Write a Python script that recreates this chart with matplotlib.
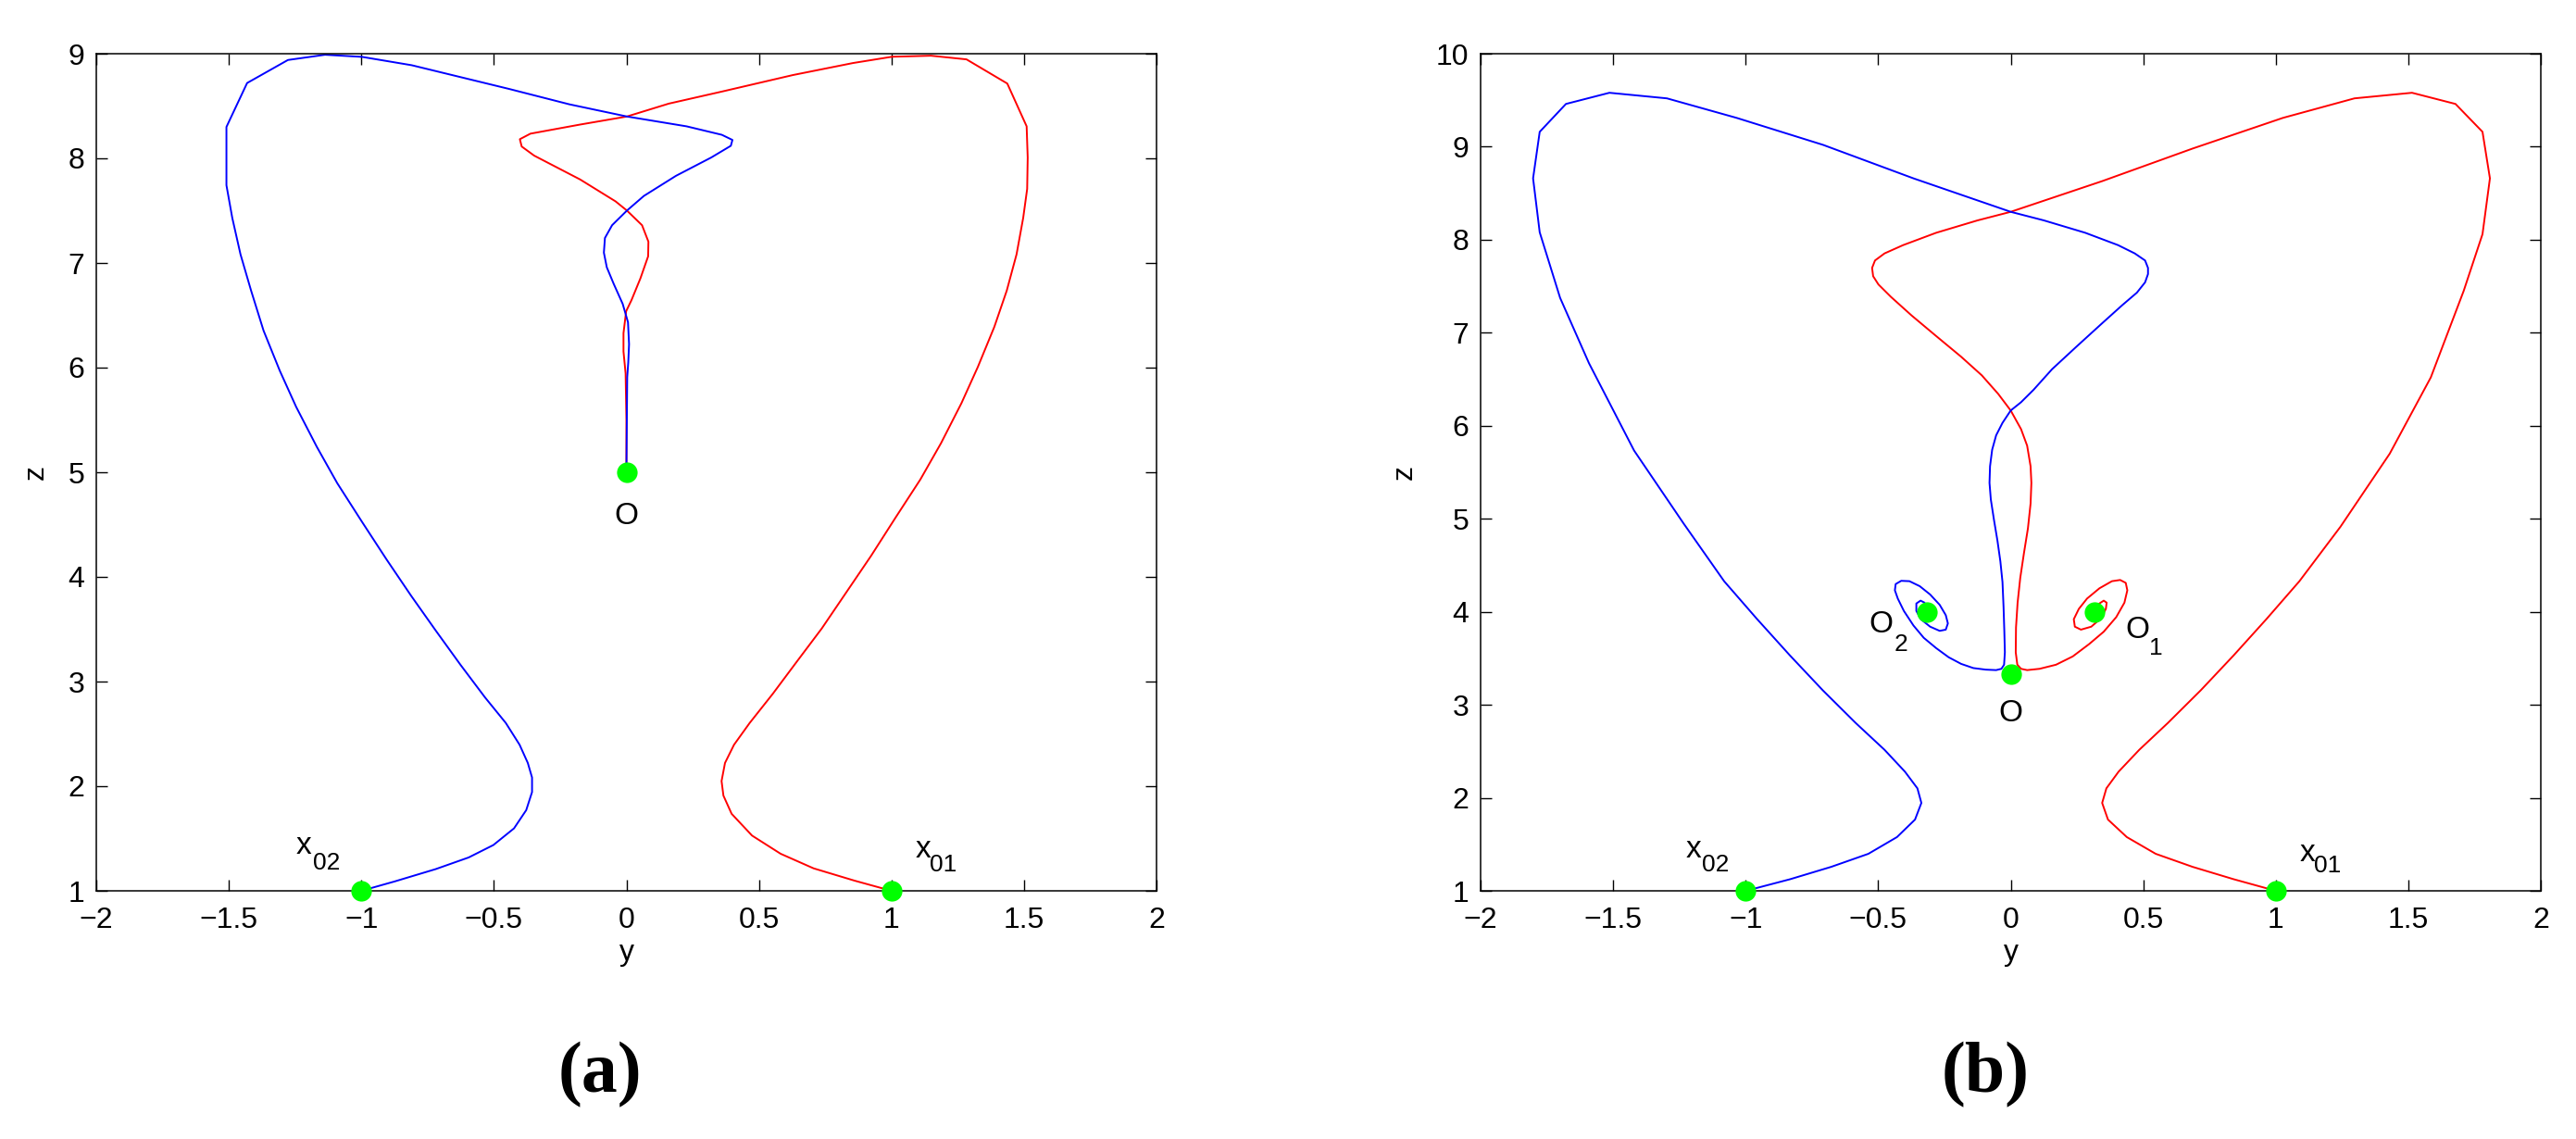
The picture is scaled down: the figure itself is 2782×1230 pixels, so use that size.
import matplotlib
matplotlib.use("Agg")
import matplotlib.pyplot as plt
from matplotlib.transforms import offset_copy

plt.rcParams['font.family'] = ['Liberation Sans', 'DejaVu Sans']

# ---------------- data: panel (a) ----------------
blue_a_y = [-1.0, -0.874, -0.719, -0.595, -0.502, -0.424, -0.378, -0.356, -0.356, -0.372, -0.403,
            -0.455, -0.533, -0.626, -0.719, -0.812, -0.905, -0.998, -1.091, -1.168, -1.246, -1.308,
            -1.369, -1.416, -1.456, -1.487, -1.509, -1.509, -1.431, -1.277, -1.137, -0.998, -0.81,
            -0.442, -0.2146, 0.002, 0.227, 0.360, 0.400, 0.394, 0.320, 0.187, 0.066, 0.002, -0.054,
            -0.081, -0.085, -0.074, -0.048, -0.014, 0.006, 0.010, 0.007, 0.003, 0.0]
blue_a_z = [1.0, 1.090, 1.208, 1.319, 1.4375, 1.597, 1.771, 1.944, 2.083, 2.222, 2.396,
            2.604, 2.847, 3.160, 3.486, 3.819, 4.167, 4.528, 4.896, 5.243, 5.625, 5.972,
            6.354, 6.736, 7.083, 7.431, 7.743, 8.30, 8.72, 8.94, 8.99, 8.97, 8.89,
            8.663, 8.516, 8.40, 8.306, 8.225, 8.176, 8.120, 8.008, 7.833, 7.641, 7.501, 7.361,
            7.239, 7.099, 6.959, 6.801, 6.609, 6.434, 6.224, 6.049, 5.909, 5.0]

red_a_y = [1.0, 0.861, 0.706, 0.582, 0.474, 0.397, 0.366, 0.359, 0.372, 0.406, 0.465, 0.552,
           0.644, 0.737, 0.830, 0.923, 1.016, 1.109, 1.187, 1.264, 1.326, 1.388, 1.435, 1.472,
           1.497, 1.512, 1.514, 1.510, 1.437, 1.283, 1.149, 1.002, 0.855, 0.628, 0.360, 0.160,
           0.002, -0.1745, -0.362, -0.402, -0.395, -0.348, -0.1745, -0.041, 0.002, 0.059, 0.083,
           0.082, 0.053, 0.019, -0.001, -0.011, -0.011, -0.003, 0.0, 0.0]
red_a_z = [1.0, 1.097, 1.215, 1.354, 1.528, 1.736, 1.910, 2.049, 2.222, 2.396, 2.604, 2.882,
           3.194, 3.507, 3.854, 4.201, 4.569, 4.931, 5.278, 5.660, 6.007, 6.389, 6.736, 7.083,
           7.431, 7.708, 8.008, 8.306, 8.715, 8.946, 8.981, 8.971, 8.911, 8.796, 8.638, 8.523,
           8.40, 8.323, 8.236, 8.183, 8.113, 8.026, 7.798, 7.589, 7.501, 7.361, 7.204,
           7.064, 6.854, 6.644, 6.539, 6.329, 6.154, 5.944, 5.5, 5.0]

pts_a_y = [-1.0, 1.0, 0.0]
pts_a_z = [1.0, 1.0, 5.0]

# ---------------- data: panel (b) ----------------
blue_b_y = [-0.999, -0.832, -0.677, -0.537, -0.429, -0.361, -0.337, -0.352, -0.399, -0.476, -0.585,
            -0.709, -0.833, -0.957, -1.081, -1.235, -1.421, -1.591, -1.70, -1.777, -1.802, -1.777,
            -1.678, -1.514, -1.297, -1.034, -0.708, -0.367, 0.0, 0.125, 0.281, 0.405, 0.468,
            0.507, 0.518, 0.518, 0.507, 0.476, 0.421, 0.343, 0.249, 0.156, 0.086, 0.039, 0.0,
            -0.031, -0.055, -0.070, -0.078, -0.080, -0.075, -0.063, -0.050, -0.039, -0.031,
            -0.027, -0.024, -0.022, -0.025, -0.035, -0.055, -0.094, -0.141, -0.187, -0.234,
            -0.281, -0.328, -0.367, -0.403, -0.426, -0.437, -0.434, -0.413, -0.382, -0.343,
            -0.304, -0.268, -0.245, -0.237, -0.245, -0.268, -0.304, -0.339, -0.356, -0.356,
            -0.340, -0.325, -0.317]
blue_b_z = [1.0, 1.125, 1.258, 1.398, 1.578, 1.766, 1.945, 2.102, 2.281, 2.516, 2.805,
            3.156, 3.531, 3.922, 4.328, 4.953, 5.734, 6.672, 7.375, 8.08, 8.66, 9.16,
            9.46, 9.58, 9.52, 9.31, 9.02, 8.66, 8.30, 8.208, 8.075, 7.942, 7.853,
            7.777, 7.697, 7.631, 7.542, 7.431, 7.297, 7.097, 6.853, 6.608, 6.386, 6.253, 6.164,
            6.031, 5.897, 5.742, 5.564, 5.386, 5.208, 4.986, 4.764, 4.542, 4.320,
            4.053, 3.786, 3.564, 3.431, 3.387, 3.373, 3.378, 3.395, 3.440, 3.511,
            3.609, 3.720, 3.853, 4.009, 4.142, 4.231, 4.298, 4.333, 4.329, 4.275,
            4.186, 4.075, 3.964, 3.875, 3.808, 3.795, 3.840, 3.920, 4.009, 4.089,
            4.120, 4.098, 4.009]

red_b_y = [1.0, 0.841, 0.686, 0.547, 0.438, 0.367, 0.345, 0.361, 0.407, 0.485, 0.593, 0.717,
           0.841, 0.965, 1.089, 1.244, 1.43, 1.585, 1.709, 1.78, 1.808, 1.78, 1.678, 1.514,
           1.297, 1.027, 0.686, 0.345, 0.0, -0.125, -0.281, -0.406, -0.476, -0.512, -0.523,
           -0.519, -0.499, -0.452, -0.374, -0.281, -0.187, -0.109, -0.047, 0.0, 0.039, 0.062,
           0.075, 0.078, 0.075, 0.065, 0.050, 0.036, 0.026, 0.020, 0.019, 0.025, 0.039, 0.062,
           0.109, 0.171, 0.234, 0.296, 0.351, 0.398, 0.429, 0.440, 0.434, 0.413, 0.382, 0.335,
           0.288, 0.257, 0.238, 0.242, 0.265, 0.304, 0.340, 0.359, 0.362, 0.351, 0.327, 0.315]
red_b_z = [1.0, 1.125, 1.258, 1.398, 1.578, 1.766, 1.945, 2.102, 2.281, 2.516, 2.805, 3.156,
           3.531, 3.922, 4.328, 4.914, 5.70, 6.52, 7.45, 8.06, 8.66, 9.16, 9.46, 9.58,
           9.52, 9.31, 8.98, 8.63, 8.30, 8.208, 8.075, 7.942, 7.853, 7.777, 7.697,
           7.608, 7.519, 7.386, 7.186, 6.964, 6.742, 6.542, 6.342, 6.164, 5.964, 5.786,
           5.564, 5.386, 5.164, 4.897, 4.631, 4.364, 4.097, 3.831, 3.564, 3.431, 3.387, 3.373,
           3.387, 3.431, 3.520, 3.653, 3.786, 3.942, 4.098, 4.231, 4.311, 4.342, 4.329, 4.253,
           4.142, 4.031, 3.920, 3.840, 3.808, 3.840, 3.929, 4.031, 4.098, 4.120, 4.075, 4.009]

pts_b_y = [-1.0, 1.0, 0.0, 0.316, -0.316]
pts_b_z = [1.0, 1.0, 3.333, 4.0, 4.0]

xticks = [-2, -1.5, -1, -0.5, 0, 0.5, 1, 1.5, 2]
xticklabels = ['\u22122', '\u22121.5', '\u22121', '\u22120.5', '0', '0.5', '1', '1.5', '2']
yticks_a = [1, 2, 3, 4, 5, 6, 7, 8, 9]
yticks_b = [1, 2, 3, 4, 5, 6, 7, 8, 9, 10]

W, H = 2782, 1230
fig = plt.figure(figsize=(W / 100, H / 100), dpi=100)
fig.patch.set_facecolor('white')

axw, axh = 1145 / W, 904 / H
bottom = 1 - 962 / H
ax_a = fig.add_axes([104 / W, bottom, axw, axh])
ax_b = fig.add_axes([1599 / W, bottom, axw, axh])

TICK_FS = 23
LBL_FS = 24
SUB_FS = 19


def style(ax, yticks, ylim):
    ax.set_xlim(-2, 2)
    ax.set_ylim(*ylim)
    ax.set_xticks(xticks)
    ax.set_xticklabels(xticklabels)
    ax.set_yticks(yticks)
    ax.set_yticklabels([str(v) for v in yticks])
    ax.tick_params(direction='in', top=True, right=True, length=8.5, width=1,
                   labelsize=TICK_FS, pad=9)
    ax.tick_params(axis='x', pad=12)
    for s in ax.spines.values():
        s.set_linewidth(1.1)
    ax.set_xlabel('y', fontsize=TICK_FS, labelpad=4)
    ax.set_ylabel('z', fontsize=TICK_FS, labelpad=14)


def off(ax, dx_px, dy_px):
    return offset_copy(ax.transData, fig=fig, x=dx_px * 0.72, y=dy_px * 0.72, units='points')


def label_sub(ax, x, y, main, sub, dx_px, dy_px, sdx_px, sdy_px):
    ax.text(x, y, main, transform=off(ax, dx_px, dy_px), fontsize=LBL_FS,
            ha='center', va='center', clip_on=False)
    ax.text(x, y, sub, transform=off(ax, sdx_px, sdy_px), fontsize=SUB_FS,
            ha='center', va='center', clip_on=False)


# ---- panel (a) ----
ax_a.plot(red_a_y, red_a_z, color=(1, 0, 0), lw=1.4)
ax_a.plot(blue_a_y, blue_a_z, color=(0, 0, 1), lw=1.4)
ax_a.plot(pts_a_y, pts_a_z, 'o', color=(0, 1, 0), ms=16, mec='none', clip_on=False, zorder=5)
style(ax_a, yticks_a, (1, 9))
label_sub(ax_a, -1.0, 1.0, 'x', '02', -62, 48, -38, 30)
label_sub(ax_a, 1.0, 1.0, 'x', '01', 34, 44, 56, 28)
ax_a.text(0.0, 5.0, 'O', fontsize=LBL_FS, ha='center', va='center', transform=off(ax_a, 0, -48))

# ---- panel (b) ----
ax_b.plot(red_b_y, red_b_z, color=(1, 0, 0), lw=1.4)
ax_b.plot(blue_b_y, blue_b_z, color=(0, 0, 1), lw=1.4)
ax_b.plot(pts_b_y, pts_b_z, 'o', color=(0, 1, 0), ms=16, mec='none', clip_on=False, zorder=5)
style(ax_b, yticks_b, (1, 10))
label_sub(ax_b, -1.0, 1.0, 'x', '02', -56, 44, -33, 28)
label_sub(ax_b, 1.0, 1.0, 'x', '01', 34, 40, 56, 27)
ax_b.text(0.0, 3.333, 'O', fontsize=LBL_FS, ha='center', va='center', transform=off(ax_b, 0, -43))
label_sub(ax_b, -0.316, 4.0, 'O', '2', -50, -14, -28, -35)
label_sub(ax_b, 0.316, 4.0, 'O', '1', 46, -20, 66, -39)

# ---- panel captions ----
fig.text(648 / W, 1 - 1161 / H, '(a)', fontsize=56, fontweight='bold',
         family='Liberation Serif', ha='center', va='center')
fig.text(2144 / W, 1 - 1161 / H, '(b)', fontsize=56, fontweight='bold',
         family='Liberation Serif', ha='center', va='center')

fig.savefig('out.png', dpi=100, facecolor='white')
